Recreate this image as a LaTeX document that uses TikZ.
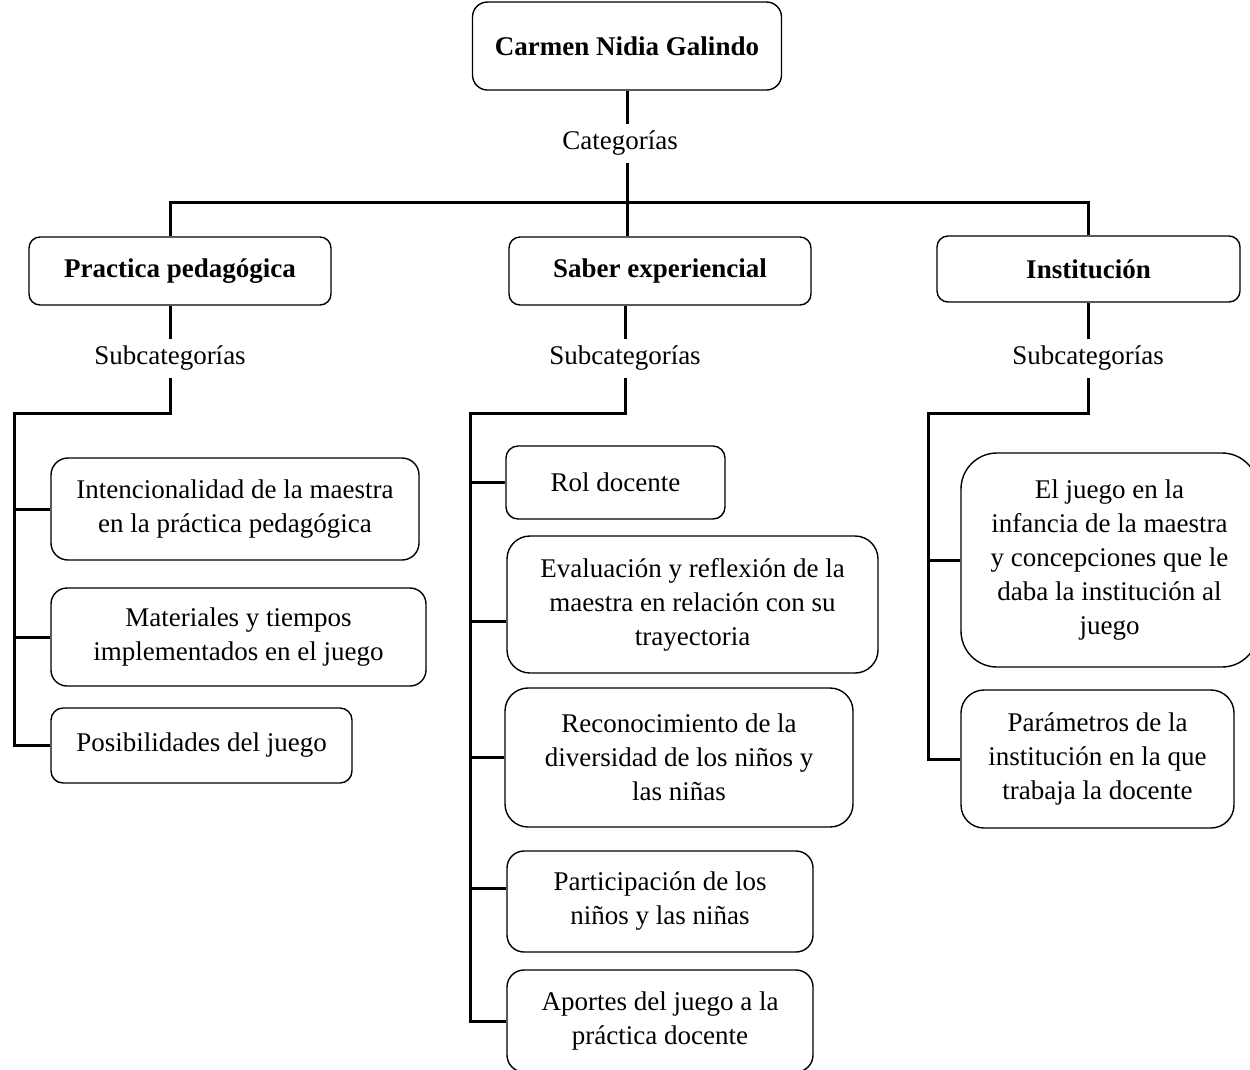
\documentclass[tikz,border=0pt]{standalone}
\usepackage{fontspec}
\setmainfont{Liberation Serif}
\usepackage{tikz}

\begin{document}
\begin{tikzpicture}[x=1pt, y=-1pt, every node/.style={font=\fontsize{27}{34}\selectfont}, conn/.style={line width=3pt}, box/.style={draw, line width=1.4pt, rounded corners=#1, align=center, inner sep=0pt}, lbl/.style={inner sep=7pt}]
	\useasboundingbox (0,0) rectangle (1250,1069);
	\node[box=15, minimum width=309, minimum height=88] (root) at (627,46) {\textbf{Carmen Nidia Galindo}};
	\node[lbl] (catlbl) at (620,143) {Categorías};
	\coordinate (hub) at (627,202);
	\node[box=11, minimum width=302, minimum height=68] (pp) at (180,271) {\textbf{Practica pedagógica}};
	\node[box=11, minimum width=302, minimum height=68] (sv) at (660,271) {\textbf{Saber experiencial}};
	\node[box=11, minimum width=303, minimum height=66] (inst) at (1088.5,269) {\textbf{Institución}};
	\node[lbl] (s1) at (170,358) {Subcategorías};
	\node[lbl] (s2) at (625,358) {Subcategorías};
	\node[lbl] (s3) at (1088,358) {Subcategorías};
	\coordinate (t1) at (14,413);
	\coordinate (t2) at (470,413);
	\coordinate (t3) at (928,413);
	\node[box=17, minimum width=368, minimum height=102] (ib) at (235,509) {Intencionalidad de la maestra\\en la práctica pedagógica};
	\node[box=16, minimum width=375, minimum height=98] (mt) at (238.5,637) {Materiales y tiempos\\implementados en el juego};
	\node[box=12, minimum width=301, minimum height=75] (ps) at (201.5,745.5) {Posibilidades del juego};
	\node[box=12, minimum width=219, minimum height=73] (rd) at (615.5,482.5) {Rol docente};
	\node[box=23, minimum width=371, minimum height=137] (ev) at (692.5,604.5) {Evaluación y reflexión de la\\maestra en relación con su\\trayectoria};
	\node[box=23, minimum width=348, minimum height=139] (rc) at (679,757.5) {Reconocimiento de la\\diversidad de los niños y\\las niñas};
	\node[box=17, minimum width=306, minimum height=101] (pa) at (660,901.5) {Participación de los\\niños y las niñas};
	\node[box=17, minimum width=306, minimum height=102] (ap) at (660,1021) {Aportes del juego a la\\práctica docente};
	\node[box=36, minimum width=297, minimum height=214] (ej) at (1109.5,560) {El juego en la\\infancia de la maestra\\y concepciones que le\\daba la institución al\\juego};
	\node[box=23, minimum width=273, minimum height=138] (pm) at (1097.5,759) {Parámetros de la\\institución en la que\\trabaja la docente};
	\draw[conn] (root) -- (root |- catlbl.north);
	\draw[conn] (root |- catlbl.south) -- (hub);
	\draw[conn] (hub) -| (s1 |- pp.north);
	\draw[conn] (hub) -| (s3 |- inst.north);
	\draw[conn] (hub) -- (hub |- sv.north);
	\draw[conn] (s1 |- pp.south) -- (s1);
	\draw[conn] (s2 |- sv.south) -- (s2);
	\draw[conn] (s3 |- inst.south) -- (s3);
	\draw[conn] (s1) |- (t1) |- (ps.west);
	\draw[conn] (t1 |- ib.west) -- (ib.west);
	\draw[conn] (t1 |- mt.west) -- (mt.west);
	\draw[conn] (s2) |- (t2) |- (ap.west);
	\draw[conn] (t2 |- rd.west) -- (rd.west);
	\draw[conn] (t2 |- ev.west) ++(0,17) -- ([yshift=-17pt]ev.west);
	\draw[conn] (t2 |- rc.west) -- (rc.west);
	\draw[conn] (t2 |- pa.west) ++(0,-13) -- ([yshift=13pt]pa.west);
	\draw[conn] (s3) |- (t3) |- (pm.west);
	\draw[conn] (t3 |- ej.west) -- (ej.west);
\end{tikzpicture}
\end{document}
